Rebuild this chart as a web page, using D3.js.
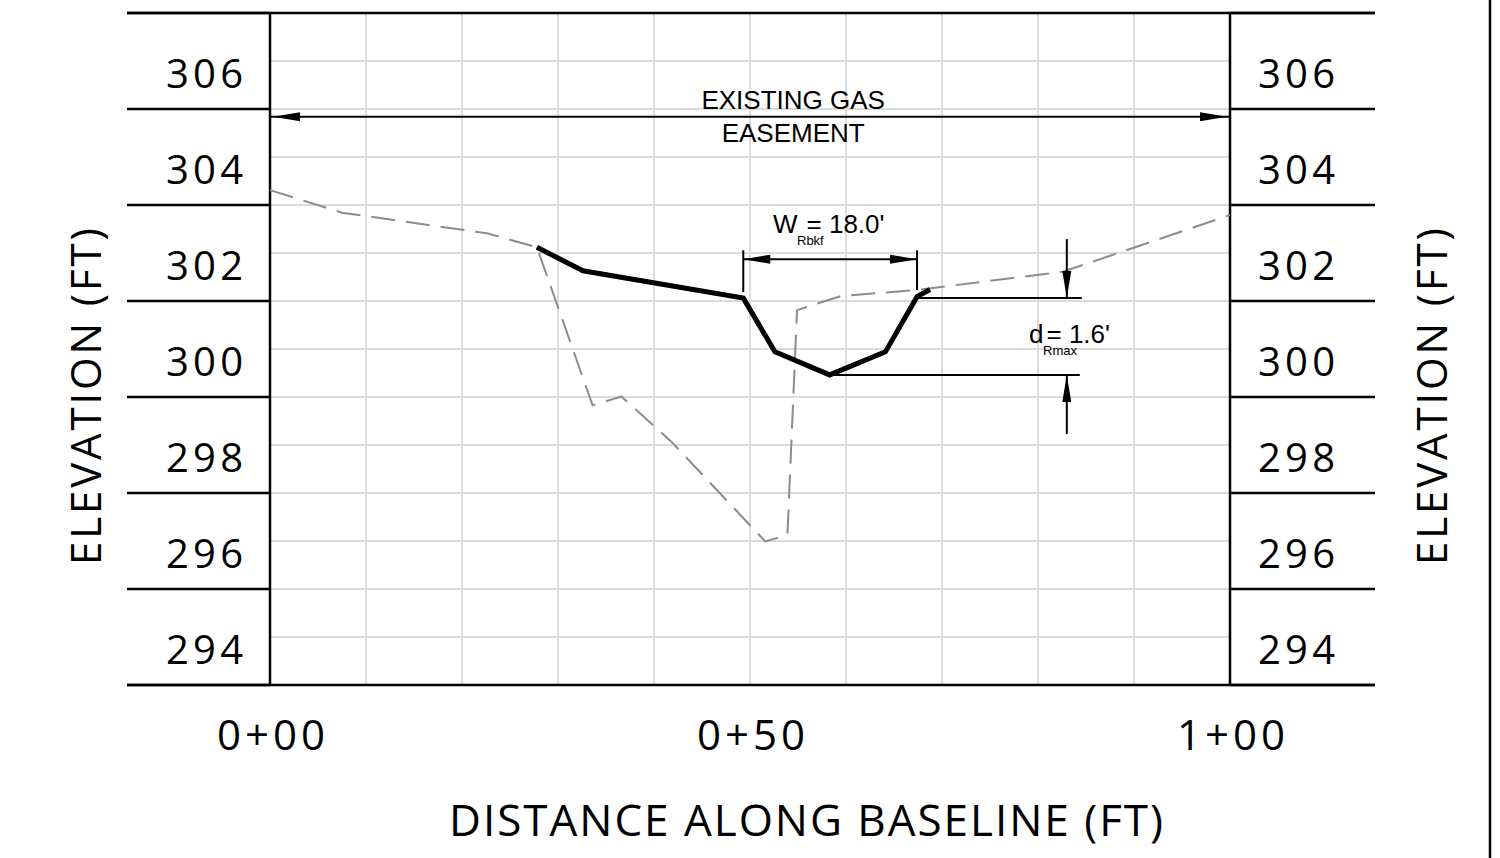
<!DOCTYPE html>
<html><head><meta charset="utf-8">
<script src="https://cdn.jsdelivr.net/npm/d3@7"></script>
<style>
html,body{margin:0;padding:0;background:#fff;}
svg{display:block;}
.cad{font-family:"Open Sans","Noto Sans",sans-serif;font-weight:400;fill:#000;}
.ann{font-family:"Liberation Sans",Arial,sans-serif;fill:#000;}
</style></head>
<body>
<svg id="chart" width="1500" height="858"></svg>
<script>
// ---------- data ----------
const existingStation = [0, 7.5, 22.6, 27.8, 33.6, 36.6, 41.8, 51.6, 53.9, 54.9, 59.4, 67.4, 82.6, 100];
const existingElev    = [303.31, 302.84, 302.41, 302.12, 298.83, 299.01, 298.07, 295.99, 296.13, 300.81, 301.10, 301.23, 301.61, 302.79];
const proposedStation = [27.8, 32.6, 49.3, 52.6, 58.3, 64.1, 67.4, 68.75];
const proposedElev    = [302.12, 301.63, 301.06, 299.94, 299.46, 299.94, 301.09, 301.24];
const elevTicks = [294, 296, 298, 300, 302, 304, 306];
const elevBands = [293, 295, 297, 299, 301, 303, 305, 307];
const elevGrid = [294, 295, 296, 297, 298, 299, 300, 301, 302, 303, 304, 305, 306];
const stationGrid = [10, 20, 30, 40, 50, 60, 70, 80, 90];
const stationTicks = [0, 50, 100];
const stationLabels = ["0+00", "0+50", "1+00"];
const easement = {from: 0, to: 100, elev: 304.84, labelStation: 54.5, lines: ["EXISTING GAS", "EASEMENT"]};
const bankfullWidth = {left: 49.3, right: 67.4, bankElev: 301.06, dimElev: 301.87, label: "18.0'"};
const maxDepth = {station: 83.0, top: 301.06, bottom: 299.46, thalwegStation: 58.3, label: "1.6'"};

// ---------- scales ----------
const x = d3.scaleLinear().domain([0, 100]).range([270, 1230]);
const y = d3.scaleLinear().domain([293, 307]).range([685, 13]);
const svg = d3.select("#chart");
const leftX = 127, rightX = 1375;

// light grid
const grid = svg.append("g").attr("stroke", "#dcdcdc").attr("stroke-width", 2);
grid.selectAll(".vg").data(stationGrid).join("line")
  .attr("x1", d => x(d)).attr("x2", d => x(d)).attr("y1", y(307)).attr("y2", y(293));
grid.selectAll(".hg").data(elevGrid).join("line")
  .attr("x1", x(0)).attr("x2", x(100)).attr("y1", d => y(d)).attr("y2", d => y(d));

// black band lines in label columns
const frame = svg.append("g").attr("stroke", "#000").attr("stroke-width", 2.5);
frame.selectAll(".bandL").data(elevBands).join("line")
  .attr("x1", leftX).attr("x2", x(0)).attr("y1", d => y(d)).attr("y2", d => y(d));
frame.selectAll(".bandR").data(elevBands).join("line")
  .attr("x1", x(100)).attr("x2", rightX).attr("y1", d => y(d)).attr("y2", d => y(d));
frame.selectAll(".edge").data([293, 307]).join("line")
  .attr("x1", leftX).attr("x2", rightX).attr("y1", d => y(d)).attr("y2", d => y(d));
frame.selectAll(".vb").data([0, 100]).join("line")
  .attr("x1", d => x(d)).attr("x2", d => x(d)).attr("y1", y(307)).attr("y2", y(293));
svg.append("line").attr("x1", 1490).attr("x2", 1490).attr("y1", 0).attr("y2", 858)
  .attr("stroke", "#000").attr("stroke-width", 2.5);

// elevation labels
svg.selectAll(".ell").data(elevTicks).join("text").attr("class", "cad")
  .attr("x", 166).attr("y", d => y(d) + 26.5)
  .attr("font-size", 40).attr("textLength", 77).attr("lengthAdjust", "spacing").text(d => d);
svg.selectAll(".elr").data(elevTicks).join("text").attr("class", "cad")
  .attr("x", 1258).attr("y", d => y(d) + 26.5)
  .attr("font-size", 40).attr("textLength", 77).attr("lengthAdjust", "spacing").text(d => d);

// station labels
svg.selectAll(".stl").data(stationTicks).join("text").attr("class", "cad")
  .attr("x", d => x(d) - 53).attr("y", 750)
  .attr("font-size", 42).attr("textLength", 108).attr("lengthAdjust", "spacing")
  .text((d, i) => stationLabels[i]);

// axis titles
svg.append("text").attr("class", "cad").attr("x", 449).attr("y", 836)
  .attr("font-size", 44).attr("textLength", 714).attr("lengthAdjust", "spacing")
  .text("DISTANCE ALONG BASELINE (FT)");
[101, 1447].forEach(cx => {
  svg.append("text").attr("class", "cad")
    .attr("transform", `translate(${cx},565) rotate(-90)`)
    .attr("font-size", 42).attr("textLength", 337).attr("lengthAdjust", "spacing")
    .text("ELEVATION (FT)");
});

// existing ground (dashed)
const line = d3.line().x(d => x(d[0])).y(d => y(d[1]));
svg.append("path").datum(existingStation.map((s, i) => [s, existingElev[i]]))
  .attr("d", line).attr("fill", "none").attr("stroke", "#8c8c8c").attr("stroke-width", 2)
  .attr("stroke-dasharray", "24,11");

// proposed channel
svg.append("path").datum(proposedStation.map((s, i) => [s, proposedElev[i]]))
  .attr("d", line).attr("fill", "none").attr("stroke", "#000").attr("stroke-width", 5)
  .attr("stroke-linejoin", "miter");

// arrow helper: tip at (tx,ty) pointing in direction (dx,dy)
function arrowHead(tx, ty, dx, dy) {
  const L = 27, W = 4.5;
  const bx = tx - dx * L, by = ty - dy * L;
  const px = -dy * W, py = dx * W;
  svg.append("path")
    .attr("d", `M${tx},${ty}L${bx + px},${by + py}L${bx - px},${by - py}Z`)
    .attr("fill", "#000");
}
const dim = svg.append("g").attr("stroke", "#000").attr("stroke-width", 2);

// easement
dim.append("line").attr("x1", x(easement.from)).attr("x2", x(easement.to))
  .attr("y1", y(easement.elev)).attr("y2", y(easement.elev));
arrowHead(x(easement.from) + 3, y(easement.elev), -1, 0);
arrowHead(x(easement.to) - 3, y(easement.elev), 1, 0);
svg.append("text").attr("class", "ann").attr("x", x(easement.labelStation)).attr("y", y(easement.elev) - 8)
  .attr("text-anchor", "middle").attr("font-size", 26).text(easement.lines[0]);
svg.append("text").attr("class", "ann").attr("x", x(easement.labelStation)).attr("y", y(easement.elev) + 25)
  .attr("text-anchor", "middle").attr("font-size", 26).text(easement.lines[1]);

// bankfull width
const wy = y(bankfullWidth.dimElev);
dim.append("line").attr("x1", x(bankfullWidth.left)).attr("x2", x(bankfullWidth.left))
  .attr("y1", wy - 9).attr("y2", y(bankfullWidth.bankElev) - 6);
dim.append("line").attr("x1", x(bankfullWidth.right)).attr("x2", x(bankfullWidth.right))
  .attr("y1", wy - 9).attr("y2", y(bankfullWidth.bankElev) - 8);
dim.append("line").attr("x1", x(bankfullWidth.left)).attr("x2", x(bankfullWidth.right))
  .attr("y1", wy).attr("y2", wy);
arrowHead(x(bankfullWidth.left), wy, -1, 0);
arrowHead(x(bankfullWidth.right), wy, 1, 0);
const wt = svg.append("text").attr("class", "ann").attr("x", 773).attr("y", wy - 26).attr("font-size", 26);
wt.append("tspan").text("W");
wt.append("tspan").attr("dx", 9).text("= " + bankfullWidth.label);
svg.append("text").attr("class", "ann").attr("x", 797).attr("y", wy - 14.5).attr("font-size", 13).text("Rbkf");

// max depth
const dx0 = x(maxDepth.station);
dim.append("line").attr("x1", x(bankfullWidth.right)).attr("x2", dx0 + 15)
  .attr("y1", y(maxDepth.top)).attr("y2", y(maxDepth.top));
dim.append("line").attr("x1", x(maxDepth.thalwegStation)).attr("x2", dx0 + 13)
  .attr("y1", y(maxDepth.bottom)).attr("y2", y(maxDepth.bottom));
dim.append("line").attr("x1", dx0).attr("x2", dx0).attr("y1", y(maxDepth.top) - 59).attr("y2", y(maxDepth.top));
dim.append("line").attr("x1", dx0).attr("x2", dx0).attr("y1", y(maxDepth.bottom)).attr("y2", y(maxDepth.bottom) + 59);
arrowHead(dx0, y(maxDepth.top), 0, 1);
arrowHead(dx0, y(maxDepth.bottom), 0, -1);
const dt = svg.append("text").attr("class", "ann").attr("x", 1029).attr("y", 342.7).attr("font-size", 26);
dt.append("tspan").text("d");
dt.append("tspan").attr("dx", 3).text("= " + maxDepth.label);
svg.append("text").attr("class", "ann").attr("x", 1043).attr("y", 354.5).attr("font-size", 13).text("Rmax");
</script>
</body></html>
